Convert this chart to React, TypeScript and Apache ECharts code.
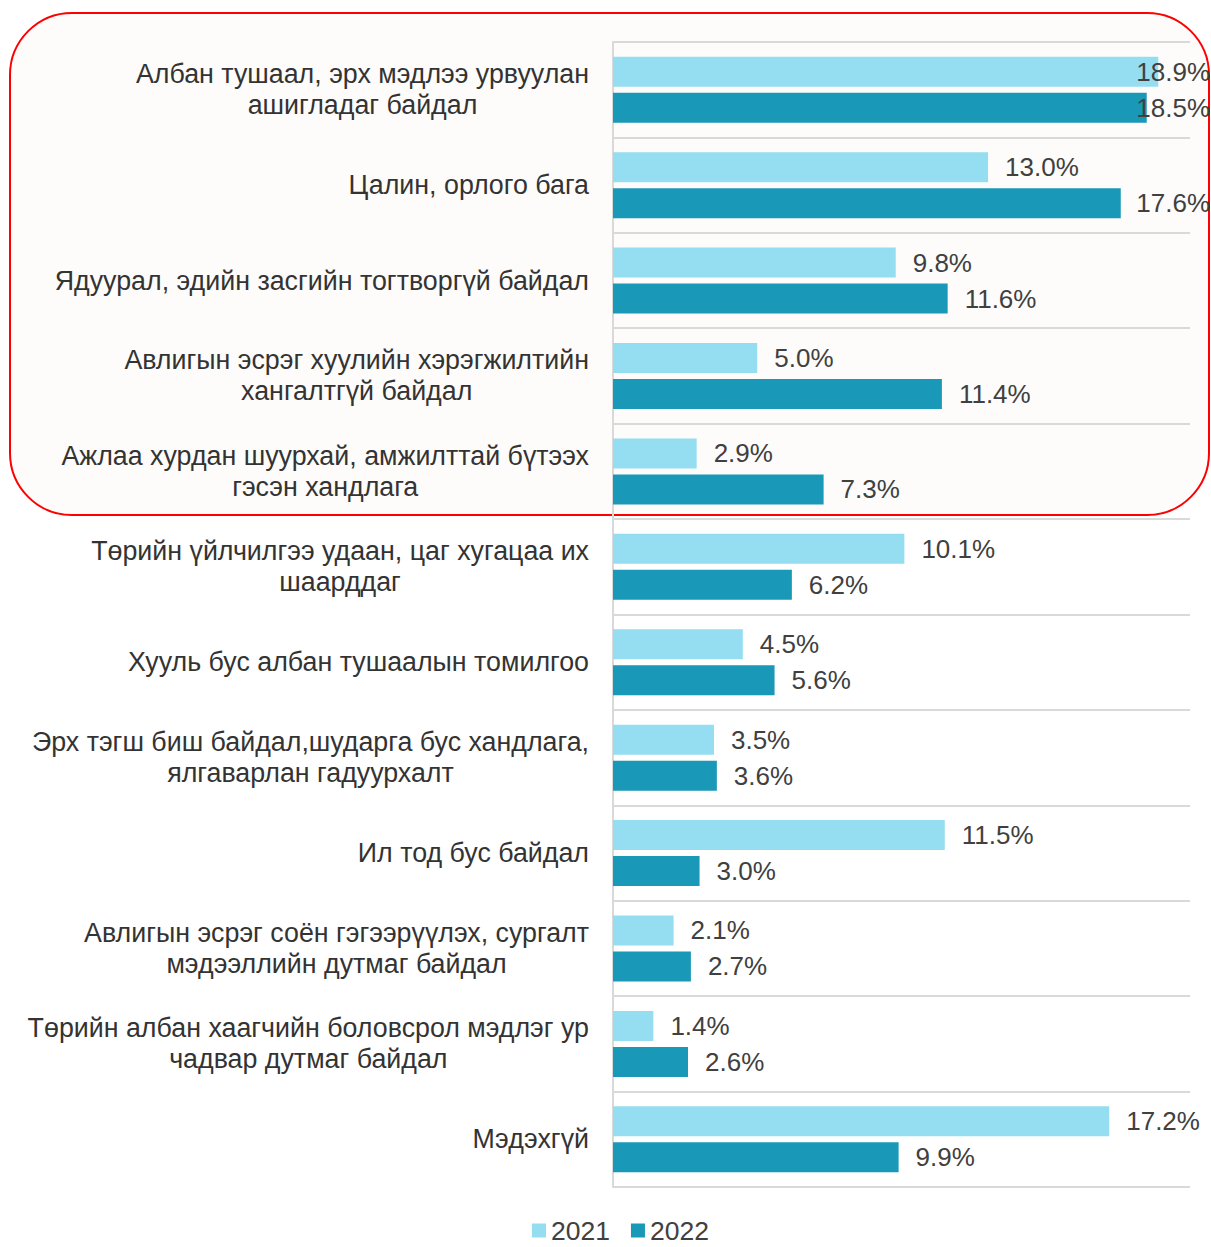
import React, { useEffect, useRef } from "react";
import * as echarts from "echarts";

const categories = [
  "Албан тушаал, эрх мэдлээ урвуулан\nашигладаг байдал",
  "Цалин, орлого бага",
  "Ядуурал, эдийн засгийн тогтворгүй байдал",
  "Авлигын эсрэг хуулийн хэрэгжилтийн\nхангалтгүй байдал",
  "Ажлаа хурдан шуурхай, амжилттай бүтээх\nгэсэн хандлага",
  "Төрийн үйлчилгээ удаан, цаг хугацаа их\nшаарддаг",
  "Хууль бус албан тушаалын томилгоо",
  "Эрх тэгш биш байдал,шударга бус хандлага,\nялгаварлан гадуурхалт",
  "Ил тод бус байдал",
  "Авлигын эсрэг соён гэгээрүүлэх, сургалт\nмэдээллийн дутмаг байдал",
  "Төрийн албан хаагчийн боловсрол мэдлэг ур\nчадвар дутмаг байдал",
  "Мэдэхгүй",
];
const values2021 = [18.9, 13.0, 9.8, 5.0, 2.9, 10.1, 4.5, 3.5, 11.5, 2.1, 1.4, 17.2];
const values2022 = [18.5, 17.6, 11.6, 11.4, 7.3, 6.2, 5.6, 3.6, 3.0, 2.7, 2.6, 9.9];
const seriesNames = ["2021", "2022"];
const seriesColors = ["#95DEF1", "#1A98B8"];

const FONT = "'Liberation Sans', Arial, sans-serif";
const W = 1211;
const H = 1247;

export default function App() {
  const ref = useRef<HTMLDivElement>(null);
  useEffect(() => {
    if (!ref.current) return;
    const chart = echarts.init(ref.current, null, { renderer: "svg" });
    const label = {
      show: true,
      position: "right",
      distance: 17,
      formatter: (p: any) => Number(p.value).toFixed(1) + "%",
      fontSize: 26,
      fontFamily: FONT,
      color: "#404040",
    };
    chart.setOption({
      animation: false,
      backgroundColor: "#ffffff",
      textStyle: { fontFamily: FONT },
      graphic: [
        {
          type: "rect",
          z: -10,
          silent: true,
          shape: { x: 10, y: 13, width: 1199, height: 502, r: 62 },
          style: { fill: "#FDFCFA", stroke: "#FF0000", lineWidth: 2 },
        },
      ],
      legend: {
        top: 1217,
        left: 532,
        itemWidth: 14,
        itemHeight: 14,
        itemGap: 21,
        icon: "rect",
        padding: 0,
        textStyle: { fontSize: 26.5, lineHeight: 24, color: "#404040", fontFamily: FONT },
        data: seriesNames,
      },
      grid: { left: 613, top: 42, right: W - 1190, bottom: H - 1187, containLabel: false },
      xAxis: {
        type: "value",
        min: 0,
        max: 20,
        axisLabel: { show: false },
        axisLine: { show: false },
        axisTick: { show: false },
        splitLine: { show: false },
      },
      yAxis: {
        type: "category",
        inverse: true,
        data: categories,
        axisTick: { show: false },
        axisLine: { show: true, lineStyle: { color: "#d9d9d9", width: 2 } },
        splitLine: { show: true, lineStyle: { color: "#d9d9d9", width: 2 } },
        axisLabel: {
          margin: 24,
          align: "right",
          formatter: (v: string) =>
            v
              .split("\n")
              .map((line) => `{c|${line}}`)
              .join("\n"),
          rich: {
            c: {
              align: "center",
              fontSize: 26.8,
              lineHeight: 31,
              color: "#333333",
              fontFamily: FONT,
            },
          },
        },
      },
      labelLayout: (params: any) => {
        const r = params.labelRect;
        if (r && r.x + r.width > W - 1) {
          return {
            x: W - 1 - r.width,
            y: r.y + r.height / 2,
            align: "left",
            verticalAlign: "middle",
          };
        }
        return {};
      },
      series: seriesNames.map((name, i) => ({
        name,
        type: "bar",
        data: i === 0 ? values2021 : values2022,
        barWidth: 30,
        barGap: "20%",
        itemStyle: { color: seriesColors[i] },
        label,
      })),
    });
    return () => chart.dispose();
  }, []);
  return (
    <div
      ref={ref}
      style={{ position: "absolute", left: 0, top: 0, width: W, height: H }}
    />
  );
}
